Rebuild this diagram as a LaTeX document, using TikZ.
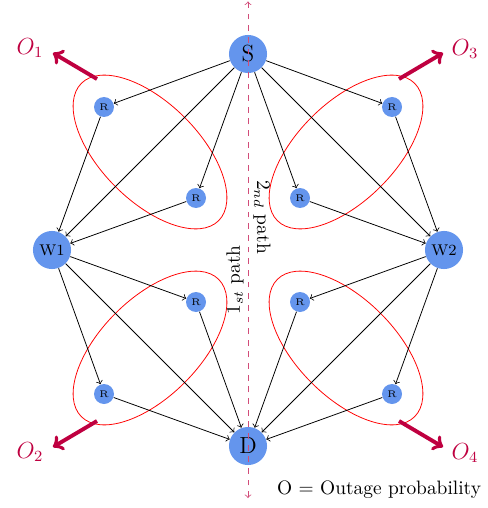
\documentclass[tikz,border=0pt]{standalone}
\usepackage{amsmath}
\definecolor{cfblue}{HTML}{6495ED}
\begin{document}
\begin{tikzpicture}[x=0.515pt,y=-0.515pt,
  big/.style={circle,fill=cfblue,minimum size=19.6pt,inner sep=0pt},
  rel/.style={circle,fill=cfblue,minimum size=10.3pt,inner sep=0pt,font=\tiny},
  link/.style={->,black},
  oval/.style={red},
  outarrow/.style={->,purple,line width=2pt},
  olabel/.style={purple,font=\large},
  dashline/.style={<->,purple!70,dashed}
]
\useasboundingbox (0,0) rectangle (487,508);
% ellipses
\coordinate (E1) at (150,152);
\coordinate (E2) at (346,152);
\coordinate (E3) at (150,348);
\coordinate (E4) at (346,348);
\draw[oval,rotate around={-45:(E1)}] (E1) ellipse (50pt and 25.2pt);
\draw[oval,rotate around={45:(E2)}] (E2) ellipse (50pt and 25.2pt);
\draw[oval,rotate around={45:(E3)}] (E3) ellipse (50pt and 25.2pt);
\draw[oval,rotate around={-45:(E4)}] (E4) ellipse (50pt and 25.2pt);
% nodes
\node[big,font=\large] (S) at (248,54) {S};
\node[big,font=\footnotesize] (W1) at (52,250) {W1};
\node[big,font=\footnotesize] (W2) at (444,250) {W2};
\node[big,font=\large] (D) at (248,446) {D};
\node[rel] (R1) at (104,107) {R};
\node[rel] (R2) at (196,198) {R};
\node[rel] (R3) at (392,107) {R};
\node[rel] (R4) at (300,198) {R};
\node[rel] (R5) at (196,302) {R};
\node[rel] (R6) at (104,394) {R};
\node[rel] (R7) at (300,302) {R};
\node[rel] (R8) at (392,394) {R};
% edges
\draw[link] (S) -- (R1);
\draw[link] (S) -- (R2);
\draw[link] (S) -- (W1);
\draw[link] (S) -- (R3);
\draw[link] (S) -- (R4);
\draw[link] (S) -- (W2);
\draw[link] (R1) -- (W1);
\draw[link] (R2) -- (W1);
\draw[link] (R3) -- (W2);
\draw[link] (R4) -- (W2);
\draw[link] (W1) -- (R5);
\draw[link] (W1) -- (R6);
\draw[link] (W1) -- (D);
\draw[link] (W2) -- (R7);
\draw[link] (W2) -- (R8);
\draw[link] (W2) -- (D);
\draw[link] (R5) -- (D);
\draw[link] (R6) -- (D);
\draw[link] (R7) -- (D);
\draw[link] (R8) -- (D);
% dashed axis
\coordinate (top) at (248,1.5);
\coordinate (bot) at (248,498);
\draw[dashline] (bot) -- (top);
% path labels
\node[rotate=-90] (p2) at (262,217) {$2_{nd}$ path};
\node[rotate=90] (p1) at (235,280) {$1_{st}$ path};
% outage arrows
\coordinate (a1s) at (97,79);  \coordinate (a1e) at (53,53);
\coordinate (a3s) at (399,79); \coordinate (a3e) at (443,53);
\coordinate (a2s) at (97,421); \coordinate (a2e) at (53,447);
\coordinate (a4s) at (399,421);\coordinate (a4e) at (443,447);
\draw[outarrow] (a1s) -- (a1e);
\draw[outarrow] (a3s) -- (a3e);
\draw[outarrow] (a2s) -- (a2e);
\draw[outarrow] (a4s) -- (a4e);
\node[olabel] (O1) at (30,48) {$O_1$};
\node[olabel] (O3) at (465,49) {$O_3$};
\node[olabel] (O2) at (30,452) {$O_2$};
\node[olabel] (O4) at (465,453) {$O_4$};
\node (leg) at (379,490) {O = Outage probability};
\end{tikzpicture}
\end{document}
